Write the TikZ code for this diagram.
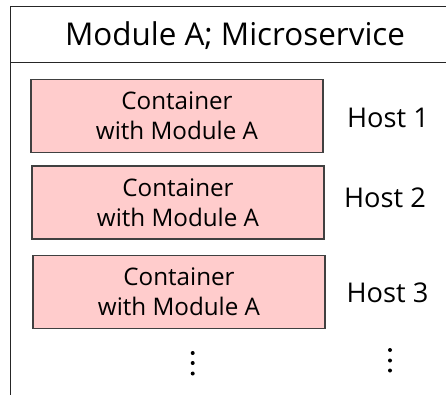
\documentclass[tikz,border=0pt]{standalone}
\usepackage{fontspec}
\setmainfont{Open Sans}
\begin{document}
\begin{tikzpicture}[x=1pt,y=-1pt,
  frame/.style={draw=black!85,line width=1.4pt},
  container/.style={draw=black!75,line width=1.4pt,fill=red!20,
    minimum width=292pt,minimum height=73pt,align=center,
    font=\fontsize{24.2}{30}\selectfont,inner sep=0pt},
  hostlabel/.style={font=\fontsize{27.2}{32}\selectfont,inner sep=0pt},
  dot/.style={fill=black,circle,inner sep=0pt,minimum size=4pt}]
  \useasboundingbox (0,0) rectangle (446,394);
  % outer frame (open on the right and at the bottom)
  \coordinate (tl) at (10.5,6.5);
  \coordinate (tr) at (447,6.5);
  \coordinate (bl) at (10.5,395);
  \coordinate (dl) at (10.5,62.5);
  \coordinate (dr) at (447,62.5);
  \draw[frame] (tr) -- (tl) -- (bl);
  \draw[frame] (dl) -- (dr);
  \node[font=\fontsize{31.4}{36}\selectfont,inner sep=0pt] (title) at (235,36) {Module A; Microservice};
  % containers
  \node[container] (c1) at (177,116) {Container\\with Module A};
  \node[container] (c2) at (178,202.5) {Container\\with Module A};
  \node[container] (c3) at (179,292) {Container\\with Module A};
  % hosts
  \node[hostlabel] (h1) at (388,118) {Host 1};
  \node[hostlabel] (h2) at (385,198) {Host 2};
  \node[hostlabel] (h3) at (387.5,293) {Host 3};
  % continuation dots
  \foreach \y [count=\i] in {353,363,373.5} \node[dot] (l\i) at (192.7,\y) {};
  \foreach \y [count=\i] in {350,360.5,370.5} \node[dot] (r\i) at (390,\y) {};
\end{tikzpicture}
\end{document}
